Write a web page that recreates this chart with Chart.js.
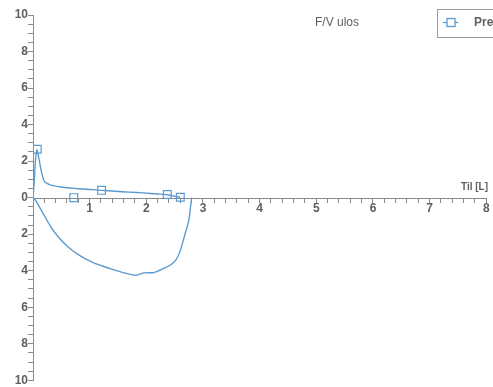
<!DOCTYPE html>
<html><head><meta charset="utf-8">
<script src="https://cdn.jsdelivr.net/npm/chart.js@4/dist/chart.umd.min.js"></script>
<style>html,body{margin:0;padding:0;background:#fff}canvas{display:block}</style>
</head><body>
<canvas id="c" width="493" height="387"></canvas>
<script>
// Expiratory limb (volume L, flow L/s)
const expVolume = [0, 0.02, 0.04, 0.07, 0.1, 0.15, 0.2, 0.25, 0.3, 0.4, 0.5, 0.65, 0.8, 1.0, 1.2, 1.45, 1.7, 1.95, 2.2, 2.37, 2.5, 2.6];
const expFlow   = [0, 0.8, 1.9, 2.62, 2.2, 1.4, 0.9, 0.78, 0.7, 0.63, 0.58, 0.53, 0.49, 0.45, 0.4, 0.35, 0.3, 0.26, 0.2, 0.16, 0.08, 0.02];
// Inspiratory limb
const inspVolume = [0, 0.035, 0.09, 0.18, 0.3, 0.44, 0.61, 0.82, 1.09, 1.35, 1.61, 1.82, 1.96, 2.14, 2.29, 2.42, 2.52, 2.6, 2.67, 2.72, 2.75, 2.78, 2.8];
const inspFlow   = [0, -0.1, -0.38, -0.87, -1.53, -2.13, -2.67, -3.16, -3.6, -3.87, -4.12, -4.25, -4.12, -4.1, -3.9, -3.7, -3.42, -2.9, -2.14, -1.6, -1.24, -0.51, 0];
// Marker points
const markerVolume = [0.075, 0.72, 1.21, 2.37, 2.6];
const markerFlow   = [2.65, 0, 0.4, 0.17, 0.02];
// Tick labels
const xTickValues = [1, 2, 3, 4, 5, 6, 7, 8];
const yTickValues = [-10, -8, -6, -4, -2, 0, 2, 4, 6, 8, 10];
const titleText = 'F/V ulos';
const seriesName = 'Pre';
const xAxisLabel = 'Til [L]';

const lineColor = '#5b9bd0';
const axisColor = '#8a8a8a';
const textColor = '#5f5f5f';

const toXY = (xs, ys) => xs.map((x, i) => ({x: x, y: ys[i]}));
const near = (v, arr) => arr.find(a => Math.abs(a - v) < 1e-6);

const overlay = {
  id: 'overlay',
  afterDraw(chart) {
    const ctx = chart.ctx;
    ctx.save();
    ctx.fillStyle = textColor;
    ctx.textBaseline = 'middle';
    ctx.font = '12px "Liberation Sans", Arial, sans-serif';
    ctx.textAlign = 'left';
    ctx.fillText(titleText, 315, 23);
    ctx.font = 'bold 10px "Liberation Sans", Arial, sans-serif';
    ctx.textAlign = 'right';
    ctx.fillText(xAxisLabel, 488, 187);
    // legend box
    ctx.strokeStyle = '#9a9a9a';
    ctx.lineWidth = 1;
    ctx.strokeRect(437.5, 9.5, 80, 28);
    ctx.strokeStyle = lineColor;
    ctx.lineWidth = 1.3;
    ctx.beginPath(); ctx.moveTo(443, 22.5); ctx.lineTo(458, 22.5); ctx.stroke();
    ctx.fillStyle = '#fff';
    ctx.fillRect(447, 18.5, 8, 8);
    ctx.strokeRect(447, 18.5, 8, 8);
    ctx.fillStyle = textColor;
    ctx.textAlign = 'left';
    ctx.font = 'bold 12px "Liberation Sans", Arial, sans-serif';
    ctx.fillText(seriesName, 474, 23);
    ctx.restore();
  }
};

new Chart(document.getElementById('c'), {
  type: 'line',
  data: {
    datasets: [
      {label: seriesName, data: toXY(expVolume, expFlow), borderColor: lineColor, borderWidth: 1.4, pointRadius: 0, tension: 0.15, fill: false},
      {label: seriesName + ' insp', data: toXY(inspVolume, inspFlow), borderColor: lineColor, borderWidth: 1.4, pointRadius: 0, tension: 0.15, fill: false},
      {label: seriesName + ' markers', data: toXY(markerVolume, markerFlow), showLine: false, pointStyle: 'rect', pointRadius: 5.5, pointBorderWidth: 1.2, borderColor: lineColor, backgroundColor: 'rgba(255,255,255,0)'}
    ]
  },
  options: {
    responsive: false,
    animation: false,
    devicePixelRatio: 1,
    layout: {padding: {left: 0, right: 2, top: 15, bottom: 5}},
    plugins: {legend: {display: false}, tooltip: {enabled: false}, title: {display: false}},
    scales: {
      x: {
        type: 'linear', min: 0, max: 8, position: 'center',
        border: {display: true, color: axisColor, width: 1},
        grid: {drawOnChartArea: false, drawTicks: true, tickLength: 4, color: axisColor},
        ticks: {stepSize: 0.2, autoSkip: false, maxRotation: 0, padding: 0, color: textColor,
          font: {family: '"Liberation Sans", Arial, sans-serif', size: 12, weight: 'bold'},
          callback: v => { const t = near(v, xTickValues); return t !== undefined ? String(t) : ''; }}
      },
      y: {
        type: 'linear', min: -10, max: 10, position: 'left',
        afterFit: s => { s.width = 33; },
        border: {display: true, color: axisColor, width: 1},
        grid: {drawOnChartArea: false, drawTicks: true, tickLength: 5, color: axisColor},
        ticks: {stepSize: 0.5, autoSkip: false, padding: 0, color: textColor,
          font: {family: '"Liberation Sans", Arial, sans-serif', size: 12, weight: 'bold', lineHeight: 0.5},
          callback: v => { const t = near(v, yTickValues); return t !== undefined ? String(Math.abs(t)) : ''; }}
      }
    }
  },
  plugins: [overlay]
});
</script>
</body></html>
